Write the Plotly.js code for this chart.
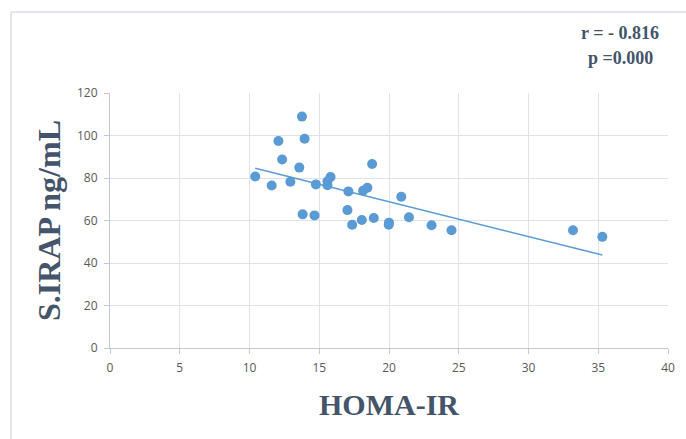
<!DOCTYPE html>
<html>
<head>
<meta charset="utf-8">
<script src="https://cdn.plot.ly/plotly-3.0.1.min.js"></script>
<style>
html,body{margin:0;padding:0;background:#fff;}
#chart{width:686px;height:439px;}
</style>
</head>
<body>
<div id="chart"></div>
<script>
// HOMA-IR values (x) and S.IRAP ng/mL values (y)
const homaIR = [10.41, 11.59, 12.07, 12.34, 12.93, 13.57, 13.76, 13.95, 13.81, 14.66,
                14.76, 15.59, 15.59, 15.81, 17.09, 17.02, 17.36, 18.05, 18.14, 18.45,
                18.79, 18.91, 19.98, 20.00, 20.88, 21.43, 23.05, 24.48, 33.19, 35.29];
const sIRAP  = [80.7, 76.5, 97.4, 88.7, 78.2, 84.9, 108.9, 98.5, 62.9, 62.4,
                77.0, 76.6, 78.5, 80.5, 73.7, 64.9, 58.0, 60.2, 74.0, 75.4,
                86.6, 61.2, 58.0, 59.0, 71.2, 61.5, 57.8, 55.4, 55.4, 52.3];
const xTicks = [0, 5, 10, 15, 20, 25, 30, 35, 40];
const yTicks = [0, 20, 40, 60, 80, 100, 120];
const statsLines = ["r = - 0.816", "p =0.000"];

// least-squares linear trendline
const n = homaIR.length;
const mx = homaIR.reduce((a,b)=>a+b,0)/n;
const my = sIRAP.reduce((a,b)=>a+b,0)/n;
let sxy = 0, sxx = 0;
for (let i=0;i<n;i++){ sxy += (homaIR[i]-mx)*(sIRAP[i]-my); sxx += (homaIR[i]-mx)**2; }
const slope = sxy/sxx, icpt = my - slope*mx;
const xmin = Math.min(...homaIR), xmax = Math.max(...homaIR);
const trendX = [xmin, xmax];
const trendY = trendX.map(v => icpt + slope*v);

const blue = '#5b9bd5';
const titleColor = '#44546a';
const tickFont = {family:'"Open Sans", "Noto Sans", sans-serif', size:12, color:'#595959'};

const data = [
  {x: homaIR, y: sIRAP, type:'scatter', mode:'markers',
   marker:{color: blue, size:10, line:{width:0}}, hoverinfo:'x+y'},
  {x: trendX, y: trendY, type:'scatter', mode:'lines',
   line:{color: blue, width:1.5}, hoverinfo:'skip'}
];

const layout = {
  width:686, height:439,
  margin:{l:110, r:18, t:93, b:91},
  paper_bgcolor:'#fff', plot_bgcolor:'#fff',
  showlegend:false,
  xaxis:{range:[0,40], tickvals:xTicks, ticktext:xTicks.map(String),
         showgrid:true, gridcolor:'#dfe2e8', gridwidth:1,
         showline:true, linecolor:'#c4c8d0', linewidth:1,
         ticks:'outside', ticklen:5, tickcolor:'#c4c8d0', ticklabelstandoff:4,
         zeroline:false, tickfont:tickFont,
         title:{text:'HOMA-IR', standoff:18,
                font:{family:'"Liberation Serif", "Times New Roman", serif', size:30, color:titleColor, weight:'bold'}}},
  yaxis:{range:[0,120], tickvals:yTicks, ticktext:yTicks.map(String),
         showgrid:true, gridcolor:'#dfe2e8', gridwidth:1,
         showline:true, linecolor:'#c4c8d0', linewidth:1,
         ticks:'outside', ticklen:5, tickcolor:'#c4c8d0', ticklabelstandoff:4,
         zeroline:false, tickfont:tickFont,
         title:{text:'S.IRAP ng/mL', standoff:6,
                font:{family:'"Liberation Serif", "Times New Roman", serif', size:32, color:titleColor, weight:'bold'}}},
  annotations:[
    {xref:'paper', yref:'paper', x:(620-110)/558, y:(348-33)/255, xanchor:'center', yanchor:'middle',
     text:'<b>'+statsLines[0]+'</b>', showarrow:false,
     font:{family:'"Liberation Serif", "Times New Roman", serif', size:18, color:titleColor}},
    {xref:'paper', yref:'paper', x:(620-110)/558, y:(348-58)/255, xanchor:'center', yanchor:'middle',
     text:'<b>'+statsLines[1]+'</b>', showarrow:false,
     font:{family:'"Liberation Serif", "Times New Roman", serif', size:18, color:titleColor}}
  ],
  shapes:[
    {type:'line', xref:'paper', yref:'paper', x0:(11-110)/558, x1:(700-110)/558, y0:(348-12)/255, y1:(348-12)/255,
     line:{color:'#e3e5eb', width:2}},
    {type:'line', xref:'paper', yref:'paper', x0:(11-110)/558, x1:(11-110)/558, y0:(348-12)/255, y1:(348-450)/255,
     line:{color:'#e3e5eb', width:2}}
  ]
};

Plotly.newPlot('chart', data, layout, {displayModeBar:false, staticPlot:true});
</script>
</body>
</html>
